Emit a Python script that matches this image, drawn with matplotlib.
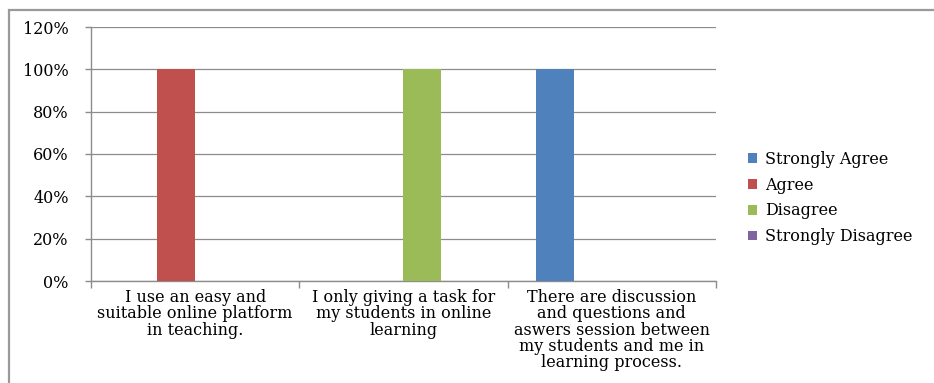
import matplotlib
matplotlib.use("Agg")
import matplotlib.pyplot as plt
import numpy as np
from matplotlib.patches import Rectangle
from matplotlib.ticker import FuncFormatter, FixedLocator

categories = [
    "I use an easy and\nsuitable online platform\nin teaching.",
    "I only giving a task for\nmy students in online\nlearning",
    "There are discussion\nand questions and\naswers session between\nmy students and me in\nlearning process.",
]
series_names = ["Strongly Agree", "Agree", "Disagree", "Strongly Disagree"]
strongly_agree = [0.0, 0.0, 1.0]
agree = [1.0, 0.0, 0.0]
disagree = [0.0, 1.0, 0.0]
strongly_disagree = [0.0, 0.0, 0.0]
y_ticks = [0.0, 0.2, 0.4, 0.6, 0.8, 1.0, 1.2]

series_values = [strongly_agree, agree, disagree, strongly_disagree]
colors = ["#4F81BD", "#C0504D", "#9BBB59", "#8064A2"]

plt.rcParams["font.family"] = ["DejaVu Serif"]

fig = plt.figure(figsize=(9.34, 3.83), dpi=100)

# outer chart frame
fig.patches.append(Rectangle((9 / 934, -0.1), 1.2, 1 - 10 / 383 + 0.1,
                             transform=fig.transFigure, fill=False,
                             edgecolor="#9a9a9a", linewidth=1.6))

ax = fig.add_axes([91 / 934, 1 - 281 / 383, (716 - 91) / 934, (281 - 27) / 383])

n = len(series_names)
gap = 1.5
bw = 1.0 / (n + gap)
x = np.arange(len(categories))
for i, (name, vals, c) in enumerate(zip(series_names, series_values, colors)):
    offs = -0.5 + gap * bw / 2 + bw * i + bw / 2
    ax.bar(x + offs, vals, width=bw, color=c, label=name, zorder=3)

ax.set_xlim(-0.5, len(categories) - 0.5)
ax.set_ylim(0, 1.2)
ax.set_yticks(y_ticks)
ax.yaxis.set_major_formatter(FuncFormatter(lambda v, p: f"{v * 100:.0f}%"))
ax.grid(axis="y", color="#8c8c8c", linewidth=0.9, zorder=0)

ax.xaxis.set_major_locator(FixedLocator(np.arange(-0.5, len(categories), 1.0)))
ax.xaxis.set_major_formatter(FuncFormatter(lambda v, p: ""))
ax.set_xticks(x, minor=True)
ax.set_xticklabels(categories, minor=True, fontsize=11.5, linespacing=0.93)
ax.tick_params(axis="x", which="minor", length=0, pad=6)
ax.tick_params(axis="x", which="major", length=5, color="#8c8c8c", width=1)
ax.tick_params(axis="y", length=4, color="#8c8c8c", width=1, labelsize=11.5, pad=12)

for s in ["top", "right"]:
    ax.spines[s].set_visible(False)
for s in ["left", "bottom"]:
    ax.spines[s].set_color("#8c8c8c")
    ax.spines[s].set_linewidth(1)

leg = ax.legend(loc="center left", bbox_to_anchor=(734 / 934, 1 - 198 / 383),
                bbox_transform=fig.transFigure, frameon=False, fontsize=11.5,
                handlelength=0.55, handleheight=0.55, handletextpad=0.5,
                labelspacing=0.55)

fig.savefig("out.png", dpi=100)
